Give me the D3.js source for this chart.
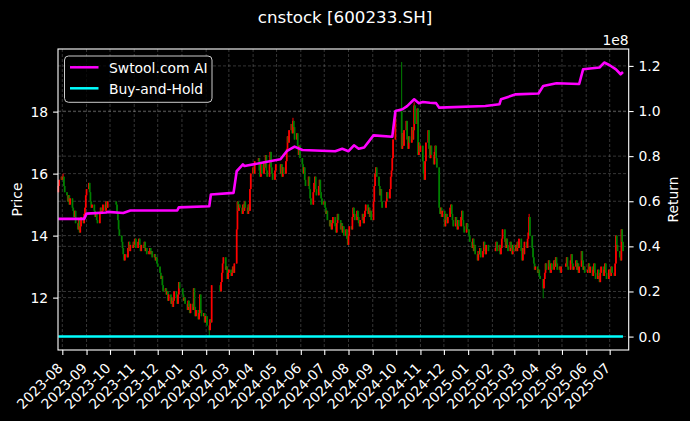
<!DOCTYPE html>
<html>
<head>
<meta charset="utf-8">
<script src="https://cdn.jsdelivr.net/npm/d3@7"></script>
<style>
body { margin: 0; background: #000; }
svg { display: block; }
text { font-family: "DejaVu Sans", sans-serif; fill: #fff; }
</style>
</head>
<body>
<svg id="chart" width="690" height="421"></svg>
<script>
// months shown and the daily closes of each month (one row per month, trading days in order)
var months = ["2023-07","2023-08","2023-09","2023-10","2023-11","2023-12",
	"2024-01","2024-02","2024-03","2024-04","2024-05","2024-06","2024-07","2024-08","2024-09","2024-10","2024-11","2024-12",
	"2025-01","2025-02","2025-03","2025-04","2025-05","2025-06","2025-07"];
var firstDay = "2023-07-27";
var lastDay = "2025-07-18";
var firstOpen = 15.4;
var closeRows = [
	[15.6, 15.8, 15.9],
	[15.8, 15.9, 15.6, 15.4, 15.3, 15.1, 15.3, 15.0, 15.2, 14.9, 14.8, 14.6, 14.8, 14.4, 14.2, 14.5, 14.1, 14.3, 14.6, 14.4, 14.7, 14.9, 15.3],
	[15.5, 15.7, 15.4, 15.1, 14.9, 15.0, 14.8, 14.6, 14.7, 14.5, 14.4, 14.7, 14.9, 14.7, 14.8, 15.0, 14.8, 15.1, 14.9, 15.1],
	[15.0, 14.7, 14.5, 14.2, 14.0, 13.8, 13.6, 13.4, 13.2, 13.4, 13.3, 13.6, 13.8, 13.5, 13.7, 13.6, 13.8],
	[13.7, 13.9, 13.6, 13.8, 13.9, 13.7, 13.5, 13.7, 13.6, 13.8, 13.5, 13.6, 13.4, 13.5, 13.6, 13.4, 13.5, 13.3, 13.4, 13.2, 13.3, 13.1],
	[13.0, 12.8, 12.6, 12.7, 12.4, 12.2, 12.3, 12.1, 12.2, 11.9, 12.1, 11.8, 12.0, 11.7, 11.9, 12.2, 12.0, 11.8, 12.1, 12.5, 12.3],
	[12.1, 11.9, 12.0, 11.8, 11.6, 11.9, 11.7, 11.5, 11.8, 11.6, 12.3, 11.7, 11.4, 11.6, 11.3, 11.5, 12.1, 11.6, 11.4, 11.5, 11.2, 11.4],
	[11.4, 11.1, 10.95, 11.3, 11.2, 12.4, 12.2, 12.5, 12.8, 13.1, 13.3, 12.9, 13.0, 12.6, 12.8],
	[12.9, 12.7, 12.8, 13.0, 12.8, 13.1, 14.2, 15.1, 14.8, 15.0, 14.9, 14.7, 15.0, 14.8, 15.1, 14.9, 14.7, 15.0, 14.8, 15.5, 16.0],
	[16.2, 16.0, 16.4, 16.5, 16.1, 15.9, 16.3, 16.0, 16.4, 16.2, 16.6, 16.1, 15.9, 16.3, 16.7, 16.2, 16.0, 15.8, 16.1, 16.3],
	[16.0, 16.3, 15.9, 16.2, 16.0, 16.4, 16.8, 17.2, 17.0, 17.4, 17.6, 17.3, 17.7, 17.5, 17.1, 17.3, 16.9, 16.6, 16.9, 16.5],
	[16.3, 16.0, 16.2, 15.8, 15.6, 15.9, 15.5, 15.2, 15.0, 15.4, 15.7, 15.9, 15.5, 15.3, 15.6, 15.8, 15.4, 15.2, 15.0],
	[15.1, 14.9, 14.7, 14.8, 14.5, 14.3, 14.5, 14.2, 14.4, 14.6, 14.3, 14.1, 14.4, 14.7, 14.5, 14.2, 14.4, 14.1, 14.3, 14.0, 14.2, 13.9, 13.7],
	[14.0, 14.3, 14.2, 14.6, 14.9, 14.7, 14.5, 14.8, 14.6, 14.4, 14.3, 14.5, 14.7, 14.4, 14.6, 14.8, 15.0, 14.7, 14.9, 14.6, 14.8, 14.5],
	[15.1, 15.6, 16.0, 16.2, 15.9, 15.6, 15.3, 15.5, 15.1, 14.9, 15.1, 15.4, 15.2, 15.5, 15.9, 16.1, 16.5, 17.1, 18.0],
	[16.8, 17.3, 16.9, 17.4, 17.7, 17.1, 16.8, 17.2, 17.0, 17.5, 17.1, 17.4, 18.2, 17.6, 18.1, 16.6, 17.0, 16.7],
	[16.9, 16.4, 16.0, 15.8, 16.4, 17.0, 17.4, 16.8, 16.5, 16.9, 16.6, 16.3, 16.7, 16.9, 16.5, 16.2, 14.9, 14.7, 14.9, 14.6, 14.8],
	[14.3, 14.5, 14.7, 14.4, 14.6, 14.9, 15.0, 14.7, 14.5, 14.3, 14.6, 14.4, 14.2, 14.5, 14.3, 14.6, 14.8, 14.5, 14.3, 14.1, 14.4, 14.2],
	[14.0, 13.8, 13.6, 13.9, 13.5, 13.7, 13.4, 13.2, 13.5, 13.4, 13.6, 13.3, 13.5, 13.8, 13.6, 13.4, 13.7, 13.5],
	[13.6, 13.8, 13.5, 13.7, 13.4, 13.6, 13.9, 14.2, 13.8, 13.6, 13.9, 13.7, 13.5, 13.8, 13.6, 13.4, 13.7, 13.5],
	[13.7, 13.5, 13.8, 13.6, 13.9, 13.5, 13.2, 13.6, 13.4, 13.8, 13.6, 13.9, 14.1, 14.6, 14.0, 13.6, 13.3, 13.1, 12.9, 13.0, 12.8],
	[12.9, 12.7, 12.6, 12.3, 12.6, 12.8, 13.1, 12.9, 13.2, 13.0, 12.8, 13.1, 12.9, 13.2, 13.0, 13.3, 13.1, 12.9, 13.0, 12.8, 13.0],
	[13.1, 13.3, 13.0, 12.9, 13.2, 13.4, 13.1, 12.9, 13.0, 13.2, 12.9, 13.1, 12.8, 13.0, 13.5, 13.2, 12.9, 13.0, 12.8],
	[12.9, 13.1, 12.8, 13.0, 12.7, 12.9, 13.1, 12.8, 12.6, 12.9, 12.7, 12.5, 12.8, 13.0, 12.7, 12.9, 13.1, 12.8, 12.6, 12.9],
	[12.9, 12.7, 13.0, 12.8, 12.7, 13.1, 14.0, 13.7, 13.5, 13.3, 13.2, 14.2, 13.8, 13.5]
];
// exchange holidays (no candle on these weekdays)
var holidays = ["2023-09-29","2023-10-02","2023-10-03","2023-10-04","2023-10-05","2023-10-06",
	"2024-01-01","2024-02-09","2024-02-12","2024-02-13","2024-02-14","2024-02-15","2024-02-16",
	"2024-04-04","2024-04-05","2024-05-01","2024-05-02","2024-05-03","2024-06-10","2024-09-16","2024-09-17",
	"2024-10-01","2024-10-02","2024-10-03","2024-10-04","2024-10-07",
	"2025-01-01","2025-01-28","2025-01-29","2025-01-30","2025-01-31","2025-02-03","2025-02-04",
	"2025-04-04","2025-05-01","2025-05-02","2025-05-05","2025-06-02"];
// long shadows that stick out of the bodies
var wickDates = ["2023-08-02","2024-02-05","2024-05-22","2024-10-08","2024-10-24","2025-03-20","2025-04-07"];
var wickHigh  = [16.0, null, 17.8, 19.6, 18.3, 14.7, null];
var wickLow   = [null, 10.75, null, null, null, null, 11.98];

// strategy return (units of 1e8)
var returnDates = ["2023-07-27","2023-08-29","2023-09-01","2023-09-26","2023-09-28","2023-10-18","2023-10-27","2023-12-26","2023-12-28",
	"2024-02-05","2024-02-07","2024-03-07","2024-03-11","2024-03-19","2024-03-21","2024-05-06","2024-05-14","2024-05-24","2024-06-03",
	"2024-07-15","2024-07-24","2024-08-01","2024-08-08","2024-08-14","2024-08-21","2024-09-02","2024-09-26","2024-09-30","2024-10-09",
	"2024-10-15","2024-10-24","2024-10-30","2024-11-04","2024-11-13","2024-11-21","2024-11-25","2025-01-23","2025-02-10","2025-02-12",
	"2025-03-03","2025-04-01","2025-04-07","2025-04-24","2025-05-23","2025-05-28","2025-06-18","2025-06-24","2025-07-01","2025-07-09",
	"2025-07-15","2025-07-18"];
var returnValues = [0.522,0.522,0.545,0.550,0.553,0.548,0.559,0.559,0.573,
	0.578,0.630,0.637,0.733,0.763,0.756,0.786,0.822,0.842,0.827,
	0.822,0.833,0.822,0.848,0.833,0.838,0.892,0.886,1.000,1.008,
	1.022,1.052,1.035,1.040,1.037,1.035,1.015,1.022,1.030,1.052,
	1.074,1.078,1.111,1.123,1.120,1.185,1.193,1.215,1.203,1.185,
	1.163,1.173];
var holdDates = ["2023-07-27","2025-07-18"];
var holdValues = [0, 0];

var priceTicks = [12, 14, 16, 18];
var returnTicks = [0, 0.2, 0.4, 0.6, 0.8, 1.0, 1.2];

var parse = d3.timeParse("%Y-%m-%d");
var fmt = d3.timeFormat("%Y-%m-%d");

// build the candles
var candles = [];
var prev = firstOpen;
months.forEach(function(m, mi){
	var row = closeRows[mi];
	var start = parse(m + "-01");
	var d = start;
	var k = 0;
	while (d.getMonth() == start.getMonth() && k < row.length) {
		var s = fmt(d);
		var wd = d.getDay();
		if (wd != 0 && wd != 6 && holidays.indexOf(s) < 0 && s >= firstDay && s <= lastDay) {
			var c = row[k];
			var hi = Math.max(prev, c), lo = Math.min(prev, c);
			var wi = wickDates.indexOf(s);
			if (wi >= 0) {
				if (wickHigh[wi] != null) hi = wickHigh[wi];
				if (wickLow[wi] != null) lo = wickLow[wi];
			}
			candles.push({date: new Date(d), open: prev, close: c, high: hi, low: lo});
			prev = c;
			k++;
		}
		d = d3.timeDay.offset(d, 1);
	}
});

var svg = d3.select("#chart");
svg.append("rect").attr("width", 690).attr("height", 421).attr("fill", "#000");

var plotL = 58, plotR = 628.7, plotT = 49, plotB = 350;

var x = d3.scaleTime().domain([new Date(2023, 6, 26, 12), new Date(2025, 6, 25, 8)]).range([plotL, plotR]);
var yP = d3.scaleLinear().domain([10.31, 20.02]).range([plotB, plotT]);
var yR = d3.scaleLinear().domain([-0.0595, 1.275]).range([plotB, plotT]);

var monthTicks = months.slice(1).map(function(m){ return parse(m + "-01"); });

// grid
var grid = svg.append("g")
	.attr("stroke", "#fff")
	.attr("stroke-opacity", 0.35)
	.attr("stroke-width", 0.6)
	.attr("stroke-dasharray", "3,2");
monthTicks.forEach(function(t){
	grid.append("line").attr("x1", x(t)).attr("x2", x(t)).attr("y1", plotT).attr("y2", plotB);
});
priceTicks.forEach(function(t){
	grid.append("line").attr("x1", plotL).attr("x2", plotR).attr("y1", yP(t)).attr("y2", yP(t));
});
returnTicks.forEach(function(t){
	grid.append("line").attr("x1", plotL).attr("x2", plotR).attr("y1", yR(t)).attr("y2", yR(t));
});

// candles
var cg = svg.append("g");
candles.forEach(function(c){
	var col = c.close >= c.open ? "#ff0000" : "#008000";
	var cx = x(c.date);
	cg.append("line")
		.attr("x1", cx).attr("x2", cx)
		.attr("y1", yP(c.high)).attr("y2", yP(c.low))
		.attr("stroke", col).attr("stroke-width", 1);
	var y1 = yP(Math.max(c.open, c.close)), y2 = yP(Math.min(c.open, c.close));
	cg.append("rect")
		.attr("x", cx - 0.85).attr("width", 1.7)
		.attr("y", y1).attr("height", Math.max(1, y2 - y1))
		.attr("fill", col);
});

// lines
var line = d3.line()
	.x(function(d){ return x(d[0]); })
	.y(function(d){ return yR(d[1]); });
var holdPts = holdDates.map(function(d, i){ return [parse(d), holdValues[i]]; });
var retPts = returnDates.map(function(d, i){ return [parse(d), returnValues[i]]; });
svg.append("path").datum(holdPts).attr("d", line)
	.attr("fill", "none").attr("stroke", "#00ffff").attr("stroke-width", 2.5);
svg.append("path").datum(retPts).attr("d", line)
	.attr("fill", "none").attr("stroke", "#ff00ff").attr("stroke-width", 2.6)
	.attr("stroke-linejoin", "round");

// axes
function styleAxis(g){
	g.select(".domain").remove();
	g.selectAll(".tick line").attr("stroke", "#fff").attr("stroke-width", 1.1);
	g.selectAll("text").attr("font-family", "DejaVu Sans").attr("font-size", "13.9px").attr("fill", "#fff");
}
var xAxis = svg.append("g")
	.attr("transform", "translate(0," + plotB + ")")
	.call(d3.axisBottom(x).tickValues(monthTicks).tickFormat(d3.timeFormat("%Y-%m")).tickSize(4.9));
styleAxis(xAxis);
xAxis.selectAll("text")
	.attr("y", 0).attr("dy", 0).attr("x", 0)
	.attr("text-anchor", "end")
	.attr("transform", "translate(1,19) rotate(-45)");

var lAxis = svg.append("g")
	.attr("transform", "translate(" + plotL + ",0)")
	.call(d3.axisLeft(yP).tickValues(priceTicks).tickFormat(d3.format("d")).tickSize(4.9).tickPadding(4.9));
styleAxis(lAxis);

var rAxis = svg.append("g")
	.attr("transform", "translate(" + plotR + ",0)")
	.call(d3.axisRight(yR).tickValues(returnTicks).tickFormat(d3.format(".1f")).tickSize(4.9).tickPadding(4.9));
styleAxis(rAxis);

// frame
svg.append("rect")
	.attr("x", plotL).attr("y", plotT).attr("width", plotR - plotL).attr("height", plotB - plotT)
	.attr("fill", "none").attr("stroke", "#fff").attr("stroke-width", 1.1);

// labels
svg.append("text").attr("x", 345).attr("y", 23).attr("text-anchor", "middle")
	.style("font-size", "16.7px").text("cnstock [600233.SH]");
svg.append("text").attr("x", plotR).attr("y", 45).attr("text-anchor", "end")
	.style("font-size", "13.9px").text("1e8");
svg.append("text").attr("transform", "translate(21.5," + ((plotT + plotB) / 2) + ") rotate(-90)")
	.attr("text-anchor", "middle").style("font-size", "13.9px").text("Price");
svg.append("text").attr("transform", "translate(678," + ((plotT + plotB) / 2) + ") rotate(-90)")
	.attr("text-anchor", "middle").style("font-size", "13.9px").text("Return");

// legend
var legend = svg.append("g");
legend.append("rect")
	.attr("x", 64.5).attr("y", 56).attr("width", 147.5).attr("height", 46.3).attr("rx", 4)
	.attr("fill", "#000").attr("fill-opacity", 0.8)
	.attr("stroke", "#ccc").attr("stroke-width", 1);
var items = [["Swtool.com AI", "#ff00ff"], ["Buy-and-Hold", "#00ffff"]];
items.forEach(function(it, i){
	var ly = 67.3 + i * 21;
	legend.append("line").attr("x1", 70).attr("x2", 98.5).attr("y1", ly).attr("y2", ly)
		.attr("stroke", it[1]).attr("stroke-width", 2.5);
	legend.append("text").attr("x", 109).attr("y", ly + 6)
		.style("font-size", "13.9px").text(it[0]);
});
</script>
</body>
</html>
